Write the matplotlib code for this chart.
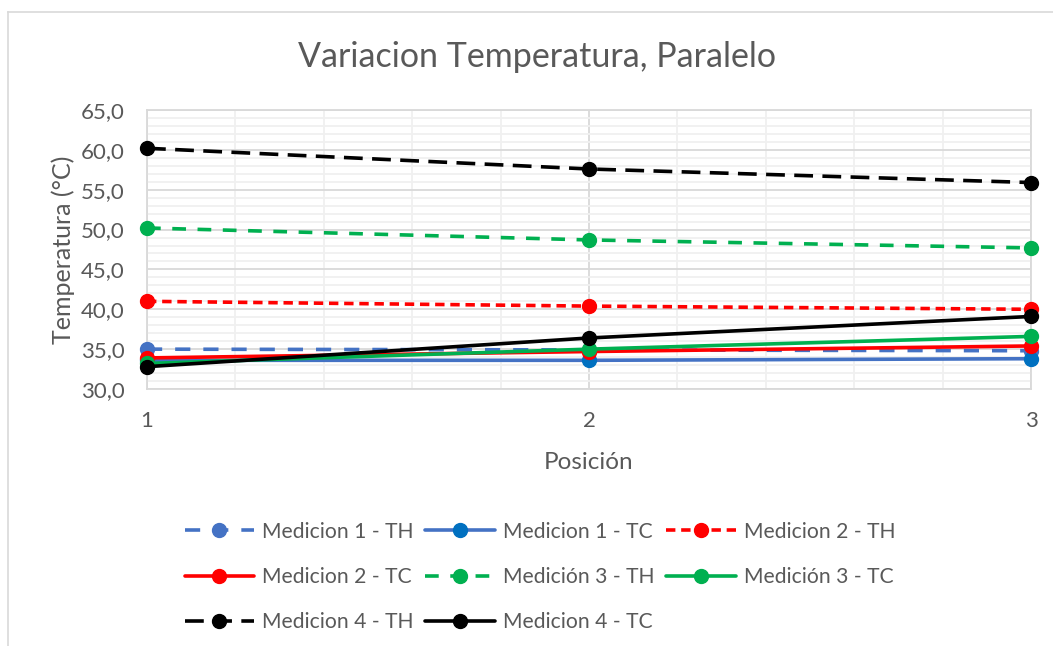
import matplotlib
matplotlib.use("Agg")
import matplotlib.pyplot as plt
from matplotlib.ticker import MultipleLocator, FixedLocator, FuncFormatter
from matplotlib.lines import Line2D

plt.rcParams['font.family'] = ['Lato', 'DejaVu Sans']

posicion = [1, 2, 3]
med1_th = [35.0, 34.9, 34.8]
med1_tc = [33.6, 33.6, 33.8]
med2_th = [41.0, 40.4, 40.0]
med2_tc = [33.9, 34.7, 35.4]
med3_th = [50.2, 48.7, 47.7]
med3_tc = [33.2, 35.0, 36.6]
med4_th = [60.2, 57.6, 55.9]
med4_tc = [32.8, 36.4, 39.1]

labels = ["Medicion 1 - TH", "Medicion 1 - TC", "Medicion 2 - TH",
          "Medicion 2 - TC", "Medición 3 - TH", "Medición 3 - TC",
          "Medicion 4 - TH", "Medicion 4 - TC"]
series = [med1_th, med1_tc, med2_th, med2_tc, med3_th, med3_tc, med4_th, med4_tc]

BLUE = "#4472C4"
BLUE_M = "#0070C0"
RED = "#FF0000"
GREEN = "#00B050"
BLACK = "#000000"
TXT = "#595959"

styles = [
    dict(color=BLUE, mfc=BLUE, mec=BLUE, dashes=(4.2, 3.6)),
    dict(color=BLUE, mfc=BLUE_M, mec=BLUE_M, dashes=None),
    dict(color=RED, mfc=RED, mec=RED, dashes=(2.6, 1.6)),
    dict(color=RED, mfc=RED, mec=RED, dashes=None),
    dict(color=GREEN, mfc=GREEN, mec=GREEN, dashes=(3.8, 3.2)),
    dict(color=GREEN, mfc=GREEN, mec=GREEN, dashes=None),
    dict(color=BLACK, mfc=BLACK, mec=BLACK, dashes=(5.2, 2.6)),
    dict(color=BLACK, mfc=BLACK, mec=BLACK, dashes=None),
]

fig = plt.figure(figsize=(10.53, 6.46), dpi=100)
ax = fig.add_axes([147/1053, 1-389/646, (1031-147)/1053, (389-110)/646])

handles = []
for vals, lab, st in zip(series, labels, styles):
    kw = dict(color=st['color'], lw=2.6, marker='o', markersize=10,
              markerfacecolor=st['mfc'], markeredgecolor=st['mec'],
              solid_capstyle='round', dash_capstyle='butt', clip_on=False, zorder=3)
    if st['dashes'] is not None:
        kw['dashes'] = st['dashes']
    l, = ax.plot(posicion, vals, label=lab, **kw)
    handles.append(l)

ax.set_xlim(1, 3)
ax.set_ylim(30, 65)
ax.xaxis.set_major_locator(FixedLocator([1, 2, 3]))
ax.xaxis.set_minor_locator(FixedLocator([1.2, 1.4, 1.6, 1.8, 2.2, 2.4, 2.6, 2.8]))
ax.yaxis.set_major_locator(MultipleLocator(5))
ax.yaxis.set_minor_locator(FixedLocator([v for v in range(31, 65) if v % 5 != 0]))
ax.yaxis.set_major_formatter(FuncFormatter(lambda v, p: f"{v:.1f}".replace('.', ',')))
ax.xaxis.set_major_formatter(FuncFormatter(lambda v, p: f"{int(round(v))}"))

ax.grid(which='major', color='#D9D9D9', lw=1.3, zorder=0)
ax.grid(which='minor', color='#F0F0F0', lw=1.3, zorder=0)
ax.set_axisbelow(True)
for s in ax.spines.values():
    s.set_color('#D9D9D9')
    s.set_linewidth(1.3)

ax.tick_params(which='both', length=0)
ax.tick_params(axis='y', labelsize=16, labelcolor=TXT, pad=16)
ax.tick_params(axis='x', labelsize=16, labelcolor=TXT, pad=16)

ax.set_xlabel("Posición", fontsize=17.5, color=TXT, labelpad=15)
ax.set_ylabel("Temperatura (°C)", fontsize=18, color=TXT, labelpad=4)

fig.text(537/1053, 1-57/646, "Variacion Temperatura, Paralelo", ha='center', va='center',
         fontsize=24.5, color=TXT)

order = [0, 3, 6, 1, 4, 7, 2, 5]
leg = fig.legend(handles=[handles[i] for i in order], labels=[labels[i] for i in order],
                 ncol=3, loc='center',
                 bbox_to_anchor=(540/1053, 1-577/646), frameon=False,
                 fontsize=15.2, handlelength=3.3, handletextpad=0.38,
                 columnspacing=0.55, labelspacing=1.2, labelcolor=TXT)

# chart border (left and top visible)
fig.add_artist(Line2D([8/1053, 8/1053], [0, 1-12/646], transform=fig.transFigure,
                      color='#D9D9D9', lw=1.2))
fig.add_artist(Line2D([8/1053, 1], [1-12/646, 1-12/646], transform=fig.transFigure,
                      color='#D9D9D9', lw=1.2))

fig.savefig("out.png", dpi=100, facecolor='white')
